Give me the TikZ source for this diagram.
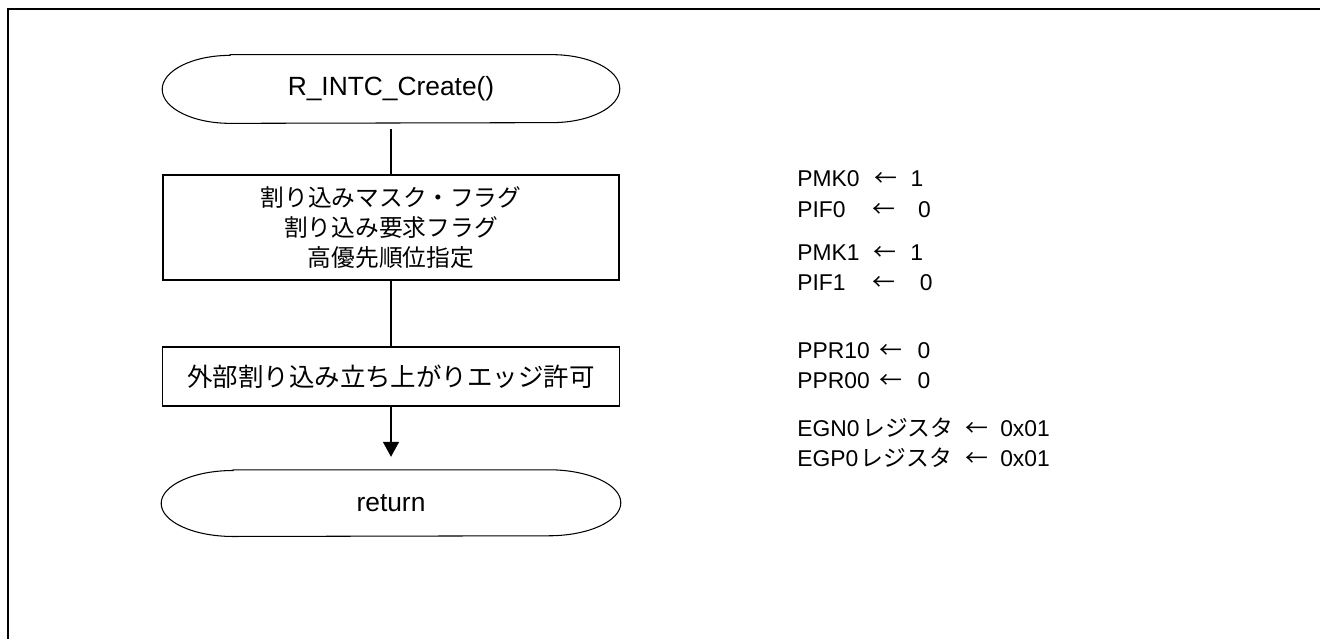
\documentclass[tikz,border=0pt]{standalone}
\usepackage{fontspec}
\setmainfont{Liberation Sans}
\newfontfamily\jp{Noto Sans CJK JP}
\usetikzlibrary{positioning,arrows.meta}
\newcommand{\asg}[4]{\makebox[#1][l]{#2}\makebox[#3][l]{\jp ←}#4}
\newcommand{\termrim}[3]{\draw[rim] ([xshift=#2]#1.north west) -- ([xshift=-#2]#1.north east)
  arc[start angle=90,end angle=-90,x radius=#2,y radius=#3] -- ([xshift=#2]#1.south west)
  arc[start angle=270,end angle=90,x radius=#2,y radius=#3] -- cycle;}

\begin{document}
\begin{tikzpicture}[x=0.02cm,y=-0.02cm,
  term/.style={rectangle, inner sep=0pt, font=\fontsize{15}{18}\selectfont},
  proc/.style={draw, line width=1pt, rectangle, align=center, inner sep=0pt},
  reg/.style={anchor=base west, inner sep=0pt, font=\fontsize{13}{16}\selectfont},
  rim/.style={line width=0.6pt},
  flow/.style={line width=0.9pt}]
\useasboundingbox (0,0) rectangle (1320,639);
\draw[line width=1.3pt] (8,9) rectangle (1340,660);

\node (start)[term, minimum width=9.14cm, minimum height=1.36cm] at (391,89) {R\_INTC\_Create()};
\node (init)[proc, minimum width=9.12cm, minimum height=2.1cm, font=\jp\fontsize{13.5}{17}\selectfont,
  below=1.02cm of start] {割り込みマスク・フラグ\\割り込み要求フラグ\\高優先順位指定};
\node (rising)[proc, minimum width=9.14cm, minimum height=1.18cm, font=\jp\fontsize{14.5}{17}\selectfont,
  below=1.3cm of init] {外部割り込み立ち上がりエッジ許可};
\node (ret)[term, minimum width=9.18cm, minimum height=1.32cm, below=1.26cm of rising] {return};
\termrim{start}{1.36cm}{0.68cm}
\termrim{ret}{1.44cm}{0.66cm}

\path[flow] (start) edge[shorten <=0.12cm] (init)
            (init) edge (rising)
            (rising) edge[-{Triangle[length=0.3cm,width=0.32cm]}, shorten >=0.26cm] (ret);

% register settings
\node (pmk0)[reg] at (797,186) {\asg{44pt}{PMK0}{20.5pt}{1}};
\node (pif0)[reg] at (797,217) {\asg{42.7pt}{PIF0}{26pt}{0}};
\node (pmk1)[reg] at (797,260) {\asg{43.3pt}{PMK1}{21pt}{1}};
\node (pif1)[reg] at (797,290) {\asg{42.7pt}{PIF1}{27pt}{0}};
\node (ppr10)[reg] at (797,358) {\asg{46.5pt}{PPR10}{22pt}{0}};
\node (ppr00)[reg] at (797,388) {\asg{46.5pt}{PPR00}{22pt}{0}};
\node (egn0)[reg] at (797,436) {\asg{95.5pt}{EGN0\kern1.5pt{\jp レジスタ}}{20pt}{0x01}};
\node (egp0)[reg] at (797,466) {\asg{95.5pt}{EGP0\kern1.5pt{\jp レジスタ}}{20pt}{0x01}};
\end{tikzpicture}
\end{document}
